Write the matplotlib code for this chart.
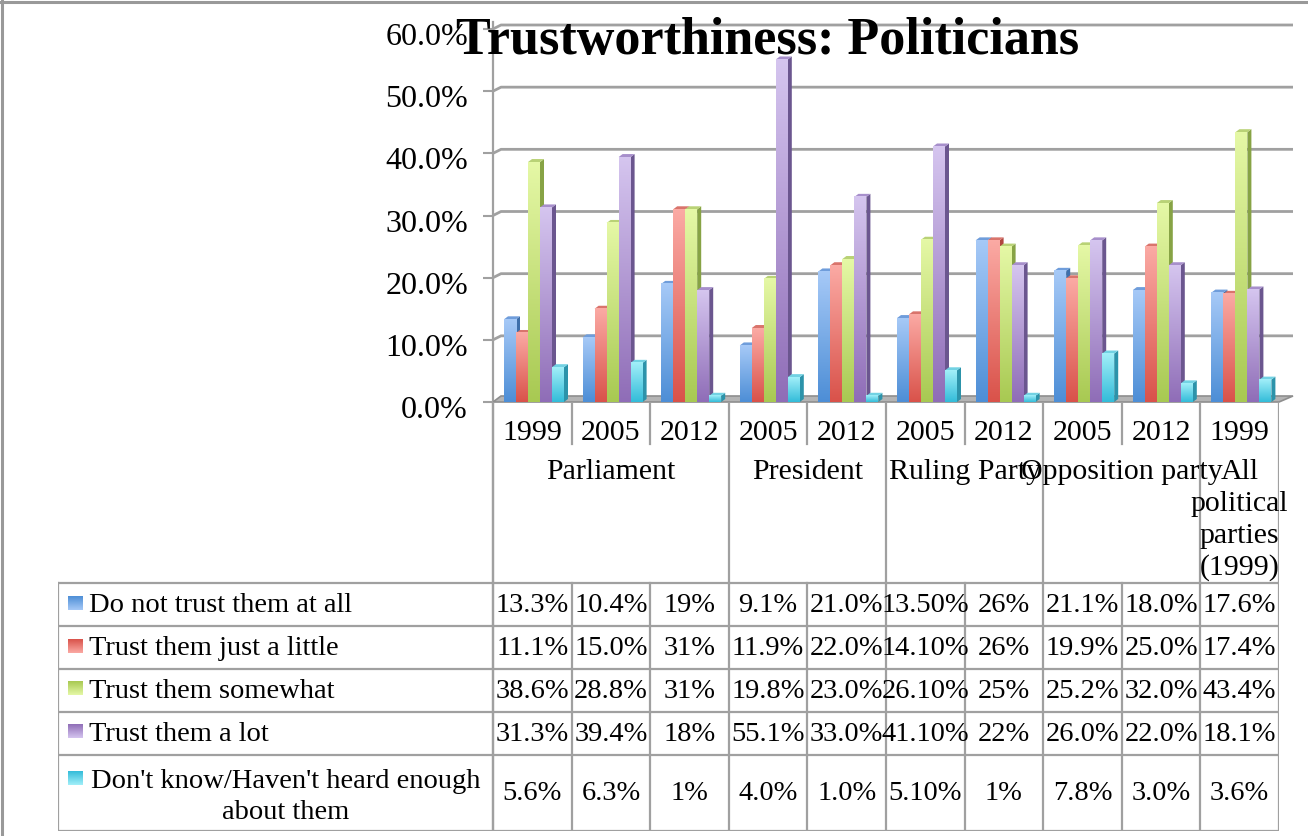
import matplotlib
matplotlib.use("Agg")
import matplotlib.pyplot as plt
import numpy as np
from matplotlib.colors import LinearSegmentedColormap
from matplotlib.patches import Polygon
from matplotlib.lines import Line2D
from matplotlib.transforms import ScaledTranslation

# ---------------------------------------------------------------- data
title = "Trustworthiness: Politicians"
years = ["1999", "2005", "2012", "2005", "2012", "2005", "2012", "2005", "2012", "1999"]
groups = ["Parliament", "President", "Ruling Party", "Opposition party",
          "All\npolitical\nparties\n(1999)"]
group_sizes = [3, 2, 2, 2, 1]
series_names = ["Do not trust them at all",
                "Trust them just a little",
                "Trust them somewhat",
                "Trust them a lot",
                "Don't know/Haven't heard enough\nabout them"]

do_not_trust = ["13.3%", "10.4%", "19%", "9.1%", "21.0%", "13.50%", "26%", "21.1%", "18.0%", "17.6%"]
trust_little = ["11.1%", "15.0%", "31%", "11.9%", "22.0%", "14.10%", "26%", "19.9%", "25.0%", "17.4%"]
trust_somewhat = ["38.6%", "28.8%", "31%", "19.8%", "23.0%", "26.10%", "25%", "25.2%", "32.0%", "43.4%"]
trust_lot = ["31.3%", "39.4%", "18%", "55.1%", "33.0%", "41.10%", "22%", "26.0%", "22.0%", "18.1%"]
dont_know = ["5.6%", "6.3%", "1%", "4.0%", "1.0%", "5.10%", "1%", "7.8%", "3.0%", "3.6%"]

y_ticks = [0, 10, 20, 30, 40, 50, 60]
y_tick_labels = ["0.0%", "10.0%", "20.0%", "30.0%", "40.0%", "50.0%", "60.0%"]

series_labels = [do_not_trust, trust_little, trust_somewhat, trust_lot, dont_know]
series_values = [[float(s.rstrip("%")) for s in row] for row in series_labels]

# ---------------------------------------------------------------- styling
# (bottom of front face, top of front face, side face, top face)
palette = [
    ("#4d8ed6", "#a6c9f7", "#3e6fab", "#6f9ddb"),
    ("#d9524a", "#fbaaa4", "#b0463f", "#d9746c"),
    ("#a8c952", "#e5f8a6", "#87a345", "#b9d276"),
    ("#8f6db7", "#d5c5ef", "#6b568f", "#a78fcb"),
    ("#33bcd9", "#a2eff9", "#2c93aa", "#72d2e3"),
]
GRID = "#a0a0a0"
FONT = "Liberation Serif"
FS_TICK = 23
FS_CAT = 21.5
FS_TAB = 20.5

W, H, DPI = 1308, 837, 100
fig = plt.figure(figsize=(W / DPI, H / DPI), dpi=DPI)
fig.patch.set_facecolor("white")

X_LEFT, X_RIGHT = 493, 1279
Y_BASE, Y_TOP = 403, 30
COL = (X_RIGHT - X_LEFT) / 10.0
PX_Y = (Y_BASE - Y_TOP) / 60.0


def dxu(px):
    return px / COL


def dyu(px):
    return px / PX_Y


ax = fig.add_axes([X_LEFT / W, (H - Y_BASE) / H, (X_RIGHT - X_LEFT) / W, (Y_BASE - Y_TOP) / H])
ax.set_facecolor("none")
for s in ax.spines.values():
    s.set_visible(False)

# floor slab
floor = Polygon([(-0.5, 0), (9.5, 0), (9.5 + dxu(14), dyu(6)), (-0.5 + dxu(8), dyu(6))],
                closed=True, facecolor="#b4b4b4", edgecolor="#8e8e8e", lw=1.2, zorder=1,
                clip_on=False)
ax.add_patch(floor)

# back-wall gridlines with their short receding stubs
for v in y_ticks[1:]:
    ax.plot([-0.5, -0.5 + dxu(8), 9.5 + dxu(14)], [v, v + dyu(4), v + dyu(4)],
            color=GRID, lw=2.0, zorder=0.5, clip_on=False, solid_capstyle="butt")

# value axis line
ax.plot([-0.5, -0.5], [0, 60 + dyu(7)], color=GRID, lw=1.6, zorder=0.6, clip_on=False)

# 3-D style bars
grad = np.linspace(0, 1, 128).reshape(-1, 1)
BAR_W = dxu(12)
SIDE_DX, SIDE_DY = dxu(4), dyu(3)
for k in range(len(years)):
    for i, vals in enumerate(series_values):
        v = vals[k]
        bot, top, side, topc = palette[i]
        cmap = LinearSegmentedColormap.from_list(f"s{i}", [bot, top])
        x0 = k - 0.5 + dxu(11) + i * BAR_W
        x1 = x0 + BAR_W
        z = 2 + k * 0.1 + i * 0.01
        ax.add_patch(Polygon([(x1, 0), (x1 + SIDE_DX, SIDE_DY), (x1 + SIDE_DX, v + SIDE_DY), (x1, v)],
                             closed=True, facecolor=side, edgecolor="none", zorder=z))
        ax.add_patch(Polygon([(x0, v), (x1, v), (x1 + SIDE_DX, v + SIDE_DY), (x0 + SIDE_DX, v + SIDE_DY)],
                             closed=True, facecolor=topc, edgecolor="none", zorder=z))
        ax.imshow(grad, extent=[x0, x1, 0, v], cmap=cmap, aspect="auto", origin="lower",
                  interpolation="bilinear", zorder=z + 0.005)

ax.set_xlim(-0.5, 9.5)
ax.set_ylim(0, 60)
ax.set_xticks([])
ax.set_yticks(y_ticks)
ax.set_yticklabels(y_tick_labels, fontsize=FS_TICK, fontfamily=FONT)
ax.tick_params(axis="y", length=7, width=1.5, color=GRID, pad=11)
shift = ScaledTranslation(0, -4 / DPI, fig.dpi_scale_trans)
for lbl in ax.get_yticklabels():
    lbl.set_transform(lbl.get_transform() + shift)

# ---------------------------------------------------------------- category header + data table
TAB_LEFT, TAB_BOTTOM = 58, 832
tax = fig.add_axes([TAB_LEFT / W, (H - TAB_BOTTOM) / H, (X_RIGHT - TAB_LEFT) / W, (TAB_BOTTOM - Y_BASE) / H])
legend_x0 = -0.5 - (X_LEFT - TAB_LEFT) / COL
tax.axis("off")

row_edges = [181, 224, 267, 310, 353, 429]
LW = 1.6

# year labels and separators
for k, yr in enumerate(years):
    tax.text(k, 30, yr, ha="center", va="center", fontsize=FS_CAT, fontfamily=FONT)

bounds = np.cumsum([0] + group_sizes)
for b in range(1, len(years)):
    if b in bounds:
        continue
    tax.plot([b - 0.5, b - 0.5], [0, 42], color=GRID, lw=LW)
for b in bounds:
    tax.plot([b - 0.5, b - 0.5], [0, row_edges[0]], color=GRID, lw=LW)

for g, name in enumerate(groups):
    cx = (bounds[g] + bounds[g + 1] - 1) / 2.0
    for j, line in enumerate(name.split("\n")):
        tax.text(cx, 69 + 32 * j, line, ha="center", va="center", fontsize=FS_CAT, fontfamily=FONT)

# table grid
for y in row_edges:
    tax.plot([legend_x0, 9.5], [y, y], color=GRID, lw=LW)
for x in [legend_x0] + [b - 0.5 for b in range(len(years) + 1)]:
    tax.plot([x, x], [row_edges[0], row_edges[-1]], color=GRID, lw=LW)
# value axis line continues down through header and table
tax.plot([-0.5, -0.5], [0, row_edges[-1]], color=GRID, lw=LW)

# legend keys, series names and values
KEY = 14
for i, (name, labels) in enumerate(zip(series_names, series_labels)):
    r0, r1 = row_edges[i], row_edges[i + 1]
    cy = (r0 + r1) / 2.0
    bot, top, _, _ = palette[i]
    cmap = LinearSegmentedColormap.from_list(f"k{i}", [bot, top])
    kx0 = legend_x0 + dxu(10)
    lines = name.split("\n")
    if len(lines) > 1:
        key_y = r0 + 23
        for j, line in enumerate(lines):
            tax.text(legend_x0 + dxu(228), r0 + 26 + 31 * j, line, ha="center", va="center",
                     fontsize=FS_TAB, fontfamily=FONT)
    else:
        key_y = cy - 2
        tax.text(legend_x0 + dxu(31), cy, name, ha="left", va="center", fontsize=FS_TAB,
                 fontfamily=FONT)
    tax.imshow(grad, extent=[kx0, kx0 + dxu(KEY), key_y + KEY / 2, key_y - KEY / 2], cmap=cmap,
               aspect="auto", origin="upper", interpolation="bilinear", zorder=3)
    for k, lab in enumerate(labels):
        tax.text(k, cy, lab, ha="center", va="center", fontsize=FS_TAB, fontfamily=FONT)

tax.set_xlim(legend_x0, 9.5)
tax.set_ylim(TAB_BOTTOM - Y_BASE, 0)

# ---------------------------------------------------------------- title and frame
fig.text(768 / W, 1 - 41 / H, title, ha="center", va="center", fontsize=37.5,
         fontweight="bold", fontfamily=FONT)
fig.add_artist(Line2D([0, 1], [1 - 2.5 / H, 1 - 2.5 / H], transform=fig.transFigure,
                      color="#999999", lw=2.2))
fig.add_artist(Line2D([1.5 / W, 1.5 / W], [0, 1], transform=fig.transFigure,
                      color="#999999", lw=2.2))

fig.savefig("out.png", dpi=DPI, facecolor="white")
